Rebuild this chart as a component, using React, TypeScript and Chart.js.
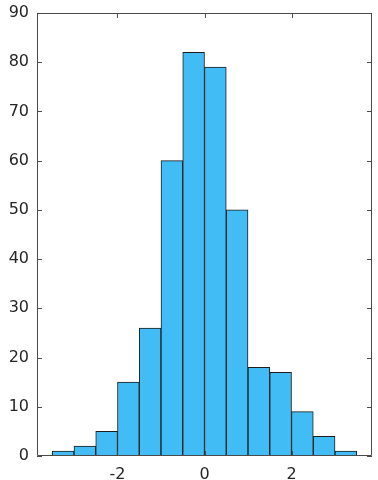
import React, { useEffect, useRef } from "react";
import { Chart, registerables } from "chart.js";

Chart.register(...registerables);

const binStarts = [-3.5, -3, -2.5, -2, -1.5, -1, -0.5, 0, 0.5, 1, 1.5, 2, 2.5, 3];
const counts = [1, 2, 5, 15, 26, 60, 82, 79, 50, 18, 17, 9, 4, 1];
const binWidth = 0.5;
const xMin = -3.85;
const xMax = 3.85;
const yMin = 0;
const yMax = 90;

const AXIS_COLOR = "#4a4a4a";
const TEXT_COLOR = "#262626";
const FONT = "'DejaVu Sans', 'Liberation Sans', Arial, sans-serif";

const boxPlugin = {
  id: "boxTicks",
  afterDraw(chart: any) {
    const { ctx, chartArea } = chart;
    const { left, right, top, bottom } = chartArea;
    const xs = chart.scales.x;
    const ys = chart.scales.y;
    const len = 5;
    ctx.save();
    ctx.strokeStyle = AXIS_COLOR;
    ctx.lineWidth = 1;
    ctx.beginPath();
    ctx.rect(left + 0.5, top + 0.5, right - left - 1, bottom - top - 1);
    for (const t of xs.ticks) {
      const px = Math.round(xs.getPixelForValue(t.value)) + 0.5;
      ctx.moveTo(px, bottom);
      ctx.lineTo(px, bottom - len);
      ctx.moveTo(px, top);
      ctx.lineTo(px, top + len);
    }
    for (const t of ys.ticks) {
      const py = Math.round(ys.getPixelForValue(t.value)) + 0.5;
      ctx.moveTo(left, py);
      ctx.lineTo(left + len, py);
      ctx.moveTo(right, py);
      ctx.lineTo(right - len, py);
    }
    ctx.stroke();
    ctx.restore();
  },
};

export default function App() {
  const ref = useRef<HTMLCanvasElement | null>(null);
  useEffect(() => {
    document.body.style.margin = "0";
    const canvas = ref.current;
    if (!canvas) return;
    const data = binStarts.map((s, i) => ({ x: s + binWidth / 2, y: counts[i] }));
    const chart = new Chart(canvas, {
      type: "bar",
      data: {
        datasets: [
          {
            data: data as any,
            backgroundColor: "#42bcf4",
            borderColor: "#1c1c1c",
            borderWidth: 1,
            barPercentage: 1,
            categoryPercentage: 1,
            borderSkipped: false,
          },
        ],
      },
      options: {
        animation: false,
        responsive: false,
        devicePixelRatio: 1,
        layout: { padding: { top: 13, right: 6, left: 0, bottom: 0 } },
        plugins: { legend: { display: false }, tooltip: { enabled: false } },
        scales: {
          x: {
            type: "linear",
            min: xMin,
            max: xMax,
            offset: false,
            grid: { display: false, drawTicks: false },
            border: { display: false },
            ticks: {
              stepSize: 2,
              includeBounds: false,
              padding: 9,
              color: TEXT_COLOR,
              font: { family: FONT, size: 16 },
              maxRotation: 0,
            },
            afterFit: (s: any) => {
              s.height = 24;
              s.paddingLeft = 0;
              s.paddingRight = 0;
            },
          },
          y: {
            min: yMin,
            max: yMax,
            grid: { display: false, drawTicks: false },
            border: { display: false },
            ticks: {
              stepSize: 10,
              padding: 8,
              color: TEXT_COLOR,
              font: { family: FONT, size: 16 },
            },
            afterFit: (s: any) => {
              s.width = 37;
              s.paddingTop = 0;
              s.paddingBottom = 0;
            },
          },
        },
      },
      plugins: [boxPlugin],
    });
    return () => chart.destroy();
  }, []);
  return <canvas ref={ref} width={378} height={480} style={{ display: "block" }} />;
}
